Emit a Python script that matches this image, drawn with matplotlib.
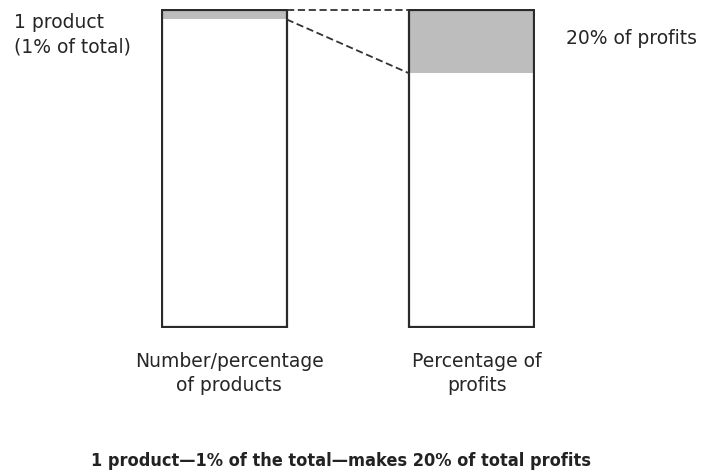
import matplotlib.pyplot as plt

# shares of the total (drawn heights, %)
categories = ['Number/percentage\nof products', 'Percentage of\nprofits']
top_share = [3, 20]          # gray slice as drawn (label says 1% / 20%)
total = [100, 100]
side_labels = ['1 product\n(1% of total)', '20% of profits']
title = '1 product\u20141% of the total\u2014makes 20% of total profits'

W, H = 707, 473
fig = plt.figure(figsize=(W / 100, H / 100), dpi=100)
ax = fig.add_axes([161 / W, (H - 328) / H, 374 / W, 319 / H])

w = 125 / 248
x = [0, 1]
rest = [t - s for t, s in zip(total, top_share)]
ax.bar(x, top_share, bottom=rest, width=w, color='#bdbdbd', linewidth=0)
# outline of the whole bar
ax.bar(x, total, width=w, fill=False, edgecolor='#2a2a2a', linewidth=1.6)

# connector lines
ax.plot([w / 2, 1 - w / 2], [total[0], total[1]], ls='--', color='#333333', lw=1.3,
        dashes=(4, 2))
ax.plot([w / 2, 1 - w / 2], [rest[0], rest[1]], ls='--', color='#333333', lw=1.3,
        dashes=(4, 2))

ax.set_xlim(-w / 2 - 0.005, 1 + w / 2 + 0.005)
ax.set_ylim(-0.3, 100.3)
ax.axis('off')

font = 'DejaVu Sans'
fs = 13.5
fig.text(14 / W, 1 - 13 / H, side_labels[0], ha='left', va='top', fontsize=fs,
         family=font, color='#262626', linespacing=1.38)
fig.text(566 / W, 1 - 39 / H, side_labels[1], ha='left', va='center', fontsize=fs,
         family=font, color='#262626')
for cx, lab in zip([229, 477], categories):
    fig.text(cx / W, 1 - 352 / H, lab, ha='center', va='top', fontsize=fs,
             family=font, color='#262626', linespacing=1.3)

fig.text(341 / W, 1 - 461 / H, title, ha='center', va='center', fontsize=13,
         family=font, fontweight='bold', fontstretch='condensed', color='#222222')

fig.savefig('out.png', dpi=100)
